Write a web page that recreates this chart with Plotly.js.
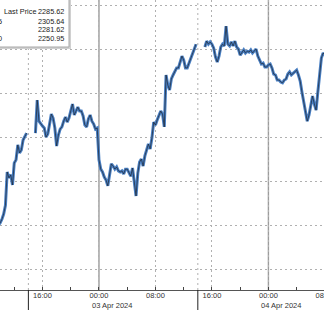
<!DOCTYPE html>
<html>
<head>
<meta charset="utf-8">
<script src="https://cdn.plot.ly/plotly-3.0.1.min.js"></script>
<style>
html,body{margin:0;padding:0;overflow:hidden;background:#fff;width:324px;height:310px;}
#chart{position:absolute;left:0;top:0;width:350px;height:310px;}
</style>
</head>
<body>
<div id="chart"></div>
<script>
// 15-minute sampled prices, three trading segments (break 14:00-15:00)
const segAStart = '2024-04-02T09:45';
const segAPrices = [2260.0, 2260.45, 2261.3, 2262.5, 2264.5, 2272.05, 2270.7, 2271.4, 2269.1, 2274.1, 2274.8, 2278.2, 2276.4, 2277.05, 2279.3, 2280.0, 2280.9];

const segBStart = '2024-04-02T15:00';
const segBPrices = [2280.9, 2288.4, 2283.6, 2282.95, 2282.5, 2282.05, 2280.0, 2280.7, 2283.4, 2285.2,
  2284.3, 2282.05, 2277.95, 2280.45, 2281.8, 2282.3, 2283.6, 2284.55, 2283.4, 2284.3,
  2285.9, 2287.5, 2285.0, 2286.1, 2286.8, 2285.9, 2285.9, 2284.8, 2282.7, 2282.3,
  2284.1, 2285.0, 2283.6, 2282.95, 2281.8, 2282.05, 2274.8, 2272.7, 2272.05, 2270.9,
  2270.2, 2268.9, 2271.4, 2273.9, 2273.4, 2272.7, 2273.2, 2272.3, 2272.05, 2272.3,
  2271.6, 2272.7, 2272.7, 2272.05, 2271.1, 2272.95, 2270.2, 2266.6, 2271.8, 2274.3,
  2275.0, 2273.4, 2275.7, 2277.3, 2278.4, 2277.3, 2279.8, 2283.4, 2282.7, 2283.9,
  2284.8, 2285.9, 2285.2, 2282.3, 2294.1, 2291.8, 2290.7, 2293.2, 2294.1, 2294.8,
  2295.7, 2295.7, 2296.8, 2298.4, 2297.5, 2295.7, 2295.7, 2296.8, 2297.95, 2298.6,
  2299.8, 2301.1];

const segCStart = '2024-04-03T15:00';
const segCPrices = [2300.45, 2301.8, 2301.1, 2301.6, 2301.1, 2300.2, 2298.2, 2297.05, 2298.4, 2300.45,
  2301.1, 2300.7, 2305.2, 2301.1, 2300.7, 2301.6, 2300.7, 2301.8, 2300.45, 2300.0,
  2298.6, 2299.3, 2299.8, 2299.1, 2299.5, 2299.3, 2299.8, 2299.1, 2299.5, 2300.0,
  2298.4, 2297.5, 2296.6, 2296.8, 2295.9, 2295.9, 2296.4, 2296.6, 2295.7, 2294.3,
  2294.1, 2292.95, 2292.95, 2292.5, 2292.3, 2292.95, 2293.2, 2294.3, 2294.8, 2294.1,
  2294.5, 2294.8, 2295.2, 2294.1, 2292.7, 2290.2, 2287.95, 2285.2, 2283.6, 2285.0,
  2287.05, 2289.3, 2287.5, 2286.1, 2290.2, 2294.1, 2297.95, 2299.1, 2298.6, 2299.8];

const tickVals = ['2024-04-02 16:00','2024-04-03 00:00','2024-04-03 08:00','2024-04-03 16:00','2024-04-04 00:00','2024-04-04 08:00'];
const tickText = ['16:00','00:00','08:00','16:00','00:00','08:00'];
const dateLabels = ['03 Apr 2024','04 Apr 2024'];
const dateLabelAt = ['2024-04-03 00:00','2024-04-04 00:00'];
const sessionBreaks = ['2024-04-02 14:00','2024-04-03 14:00'];
const midnights = ['2024-04-03 00:00','2024-04-04 00:00'];

const legendNames = ['Last Price','5','','0'];
const legendValues = ['2285.62','2305.64','2281.62','2250.95'];

function fmt(d){ return d.toISOString().slice(0,16).replace('T',' '); }
function buildSeg(start, prices){
  const t0 = new Date(start + ':00Z').getTime();
  return prices.map((p,i)=>({x: fmt(new Date(t0 + i*15*60000)), y: p}));
}
const segs = [buildSeg(segAStart, segAPrices), buildSeg(segBStart, segBPrices), buildSeg(segCStart, segCPrices)];
const xs = [], ys = [];
segs.forEach((s, si)=>{
  if(si>0){ xs.push(s[0].x); ys.push(null); }
  s.forEach(pt=>{ xs.push(pt.x); ys.push(pt.y); });
});

const traces = [
  {x: xs, y: ys, type:'scatter', mode:'lines', connectgaps:false,
   line:{color:'#4a80c4', width:3}, hoverinfo:'skip'},
  {x: xs, y: ys, type:'scatter', mode:'lines', connectgaps:false,
   line:{color:'#1e2530', width:0.7}, hoverinfo:'skip'}
];

const W = 350, PH = 290;
const px = v => v / W;
const py = v => 1 - v / PH;
const FONT = 'Liberation Sans, Arial, sans-serif';

const shapes = [];
sessionBreaks.forEach(t=>{
  shapes.push({type:'line', xref:'x', yref:'paper', x0:t, x1:t, y0:0, y1:1,
    line:{color:'#b0b0b0', width:1, dash:'2px,3px'}, layer:'below'});
  shapes.push({type:'line', xref:'x', yref:'paper', x0:t, x1:t, y0:0, y1:-0.08,
    line:{color:'#222', width:1}});
});
midnights.forEach(t=>{
  shapes.push({type:'line', xref:'x', yref:'paper', x0:t, x1:t, y0:0, y1:1,
    line:{color:'#9c9c9c', width:1.4}, layer:'below'});
});
// legend box (cropped at left)
shapes.push({type:'rect', xref:'paper', yref:'paper', x0:px(-60), x1:px(71), y0:py(49), y1:py(-10),
  fillcolor:'#d0d0d0', line:{width:0}});
shapes.push({type:'rect', xref:'paper', yref:'paper', x0:px(-60), x1:px(69), y0:py(47), y1:py(-10),
  fillcolor:'#ffffff', line:{color:'#a8a8a8', width:1}});

const annotations = [];
const rowY = [12, 21, 29.5, 38];
legendNames.forEach((n,i)=>{
  if(n){
    const isFirst = i===0;
    annotations.push({xref:'paper', yref:'paper', x: isFirst ? px(1.5) : px(3.5), y: py(rowY[i]),
      xanchor: isFirst ? 'left' : 'right', yanchor:'middle', text:n, showarrow:false,
      font:{family:FONT, size:7.3, color:'#222'}});
  }
  annotations.push({xref:'paper', yref:'paper', x: px(65.5), y: py(rowY[i]),
    xanchor:'right', yanchor:'middle', text:legendValues[i], showarrow:false,
    font:{family:FONT, size:7.3, color:'#222'}});
});
dateLabels.forEach((d,i)=>{
  annotations.push({xref:'x', yref:'paper', x:dateLabelAt[i], y:py(305), xanchor:'left', yanchor:'middle',
    xshift:-9, text:d, showarrow:false,
    font:{family:FONT, size:7.5, color:'#333'}});
});

const layout = {
  width: W, height: 310,
  margin:{l:0, r:0, t:0, b:20, pad:0},
  paper_bgcolor:'#ffffff', plot_bgcolor:'#ffffff',
  showlegend:false,
  xaxis:{type:'date', range:['2024-04-02 09:58:48','2024-04-04 11:33:18'],
    tickmode:'array', tickvals:tickVals, ticktext:tickText, ticks:'',
    ticklabelstandoff:-2,
    tickfont:{family:FONT, size:7.5, color:'#333'},
    showgrid:true, gridcolor:'#b0b0b0', griddash:'2px,3px', gridwidth:1,
    showline:true, linecolor:'#555', linewidth:1, zeroline:false,
    minor:{dtick:4*3600000, tick0:'2024-04-02 00:00', ticks:'inside', ticklen:3, tickcolor:'#444', tickwidth:1, showgrid:false},
    fixedrange:true},
  yaxis:{range:[2245.23, 2311.14], tick0:2250, dtick:10, showticklabels:false, ticks:'',
    showgrid:true, gridcolor:'#b0b0b0', griddash:'2px,3px', gridwidth:1,
    zeroline:false, showline:false, fixedrange:true},
  shapes: shapes,
  annotations: annotations,
  hovermode:false
};

Plotly.newPlot('chart', traces, layout, {staticPlot:true, displayModeBar:false});
</script>
</body>
</html>
